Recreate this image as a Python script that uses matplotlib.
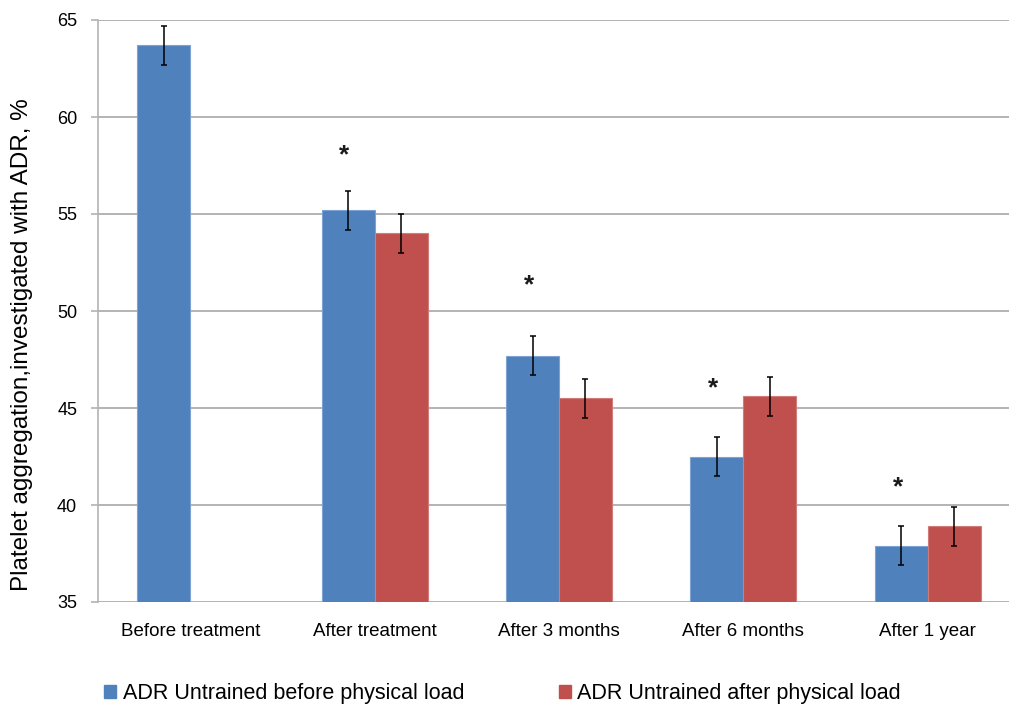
import numpy as np
import matplotlib
matplotlib.use("Agg")
import matplotlib.pyplot as plt
from matplotlib.patches import Patch

# ---- Data -------------------------------------------------------------------
categories = ["Before treatment", "After treatment", "After 3 months",
              "After 6 months", "After 1 year"]
before_load = [63.7, 55.2, 47.7, 42.5, 37.9]
after_load = [np.nan, 54.0, 45.5, 45.6, 38.9]
before_err = [1.0, 1.0, 1.0, 1.0, 1.0]
after_err = [0.0, 1.0, 1.0, 1.0, 1.0]
star_height = [None, 58.3, 51.6, 46.3, 41.2]   # significance asterisks
series_names = ["ADR Untrained before physical load",
                "ADR Untrained after physical load"]
yticks = [35, 40, 45, 50, 55, 60, 65]

# ---- Plot -------------------------------------------------------------------
plt.rcParams["font.family"] = ["Liberation Sans", "DejaVu Sans"]
blue, red = "#4F81BD", "#C0504D"
grid_col = "#b3b3b3"

fig = plt.figure(figsize=(10.09, 7.09), dpi=100)
# plot area runs past the right edge, as in the cropped reference
ax = fig.add_axes([98 / 1009, 107 / 709, 922 / 1009, 582 / 709])

x = np.arange(len(categories))
w = 0.287
ebar = dict(ecolor="black", elinewidth=1.1, capsize=2.3, capthick=1.1)
ax.bar(x - w / 2, before_load, w, color=blue, edgecolor="#7ea3d3",
       linewidth=0.8, yerr=before_err, error_kw=ebar, zorder=3)
ax.bar(x + w / 2, after_load, w, color=red, edgecolor="#d27c79",
       linewidth=0.8,
       yerr=[e if not np.isnan(v) else np.nan for e, v in zip(after_err, after_load)],
       error_kw=ebar, zorder=3)

for xi, h in zip(x, star_height):
    if h is not None:
        ax.annotate("*", (xi - w / 2 - 0.02, h), xytext=(0, -4),
                    textcoords="offset points", ha="center", va="center",
                    fontsize=19, fontweight="bold", color="#1a1a1a", zorder=4)

ax.set_xlim(-0.5, len(categories) - 0.5)
ax.set_ylim(35, 65)
ax.set_yticks(yticks)
ax.set_xticks(x)
ax.set_xticklabels(categories, fontsize=13.5)
ax.tick_params(axis="x", length=0, pad=15)
ax.tick_params(axis="y", length=5, width=1.2, color=grid_col, pad=10,
               labelsize=13)
ax.yaxis.grid(True, color=grid_col, linewidth=1.4, zorder=0)
ax.set_axisbelow(True)
for s in ["top", "right", "bottom"]:
    ax.spines[s].set_visible(False)
ax.spines["left"].set_color(grid_col)
ax.spines["left"].set_linewidth(1.2)

fig.text(22 / 1009, 1 - 345 / 709, "Platelet aggregation,investigated with ADR, %",
         rotation=90, ha="center", va="center", fontsize=17.5)

handles = [Patch(facecolor=blue, edgecolor=blue), Patch(facecolor=red, edgecolor=red)]
fig.legend(handles, series_names, loc="center left", ncol=2, frameon=False,
           bbox_to_anchor=(104 / 1009, 1 - 694 / 709), fontsize=15.5,
           handlelength=0.56, handleheight=0.56, handletextpad=0.3,
           columnspacing=4.4, borderpad=0, borderaxespad=0)

fig.savefig("out.png", dpi=100)
